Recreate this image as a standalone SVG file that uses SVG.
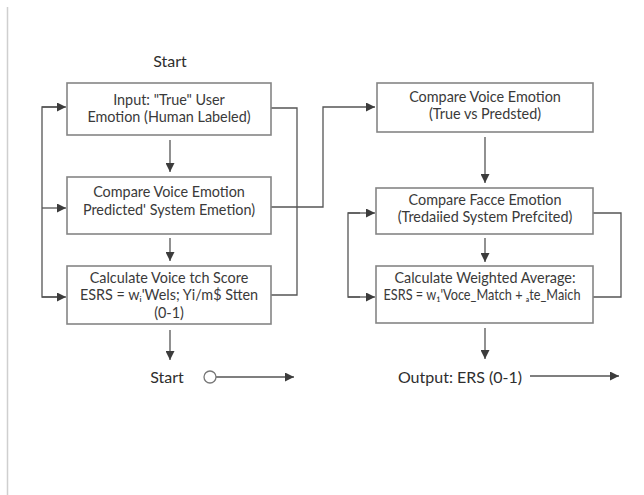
<svg xmlns="http://www.w3.org/2000/svg" width="644" height="495" viewBox="0 0 644 495">
<defs>
<marker id="ah" viewBox="0 0 10 10" refX="10" refY="5" markerWidth="9" markerHeight="9" markerUnits="userSpaceOnUse" orient="auto">
<path d="M0,0 L10,5 L0,10 z" fill="#3c3c3c"/>
</marker>
<style>
.box{fill:#fff;stroke:#858585;stroke-width:1.6}
.t{font-family:Lato,"Open Sans",sans-serif;font-size:14.4px;fill:#3a3a3a;text-anchor:middle}
.lbl{font-family:Lato,"Open Sans",sans-serif;font-size:16px;fill:#2e2e2e;text-anchor:middle}
.c{fill:none;stroke:#555;stroke-width:1.3}
.a{marker-end:url(#ah)}
</style>
</defs>
<rect width="644" height="495" fill="#fff"/>
<line x1="7.5" y1="7" x2="7.5" y2="495" stroke="#cfcfcf" stroke-width="1.5"/>

<g id="connectors">
<line class="c a" x1="170" y1="140" x2="170" y2="172"/>
<line class="c a" x1="170" y1="238" x2="170" y2="261"/>
<line class="c a" x1="170" y1="330" x2="170" y2="360"/>
<polyline class="c" points="58,297 42,297 42,107 58,107"/>
<line class="c a" x1="42" y1="107" x2="66" y2="107"/>
<line class="c a" x1="42" y1="208" x2="66" y2="208"/>
<line class="c a" x1="42" y1="297" x2="66" y2="297"/>
<polyline class="c" points="271,108 297,108 297,295 271,295"/>
<polyline class="c a" points="271,207 323,207 323,107 375,107"/>
<line class="c a" x1="216" y1="377" x2="294" y2="377"/>
<line class="c a" x1="485" y1="137" x2="485" y2="183"/>
<line class="c a" x1="485" y1="238" x2="485" y2="262"/>
<line class="c a" x1="485" y1="328" x2="485" y2="359"/>
<polyline class="c" points="360,297 348,297 348,213 360,213"/>
<line class="c a" x1="348" y1="213" x2="375" y2="213"/>
<line class="c a" x1="348" y1="297" x2="375" y2="297"/>
<polyline class="c" points="593,213 621,213 621,297 593,297"/>
<line class="c a" x1="530" y1="376" x2="619" y2="376"/>
</g>

<g id="start-top"><text class="lbl" x="170" y="67">Start</text></g>

<g id="n1">
<rect class="box" x="67" y="83" width="204" height="52"/>
<text class="t" x="169" y="105">Input: "True" User</text>
<text class="t" x="169" y="122">Emotion (Human Labeled)</text>
</g>
<g id="n2">
<rect class="box" x="67" y="177" width="204" height="57"/>
<text class="t" x="169" y="197">Compare Voice Emotion</text>
<text class="t" x="169" y="215">Predicted' System Emetion)</text>
</g>
<g id="n3">
<rect class="box" x="67" y="266" width="204" height="58"/>
<text class="t" x="169" y="283">Calculate Voice tch Score</text>
<text class="t" x="169" y="300">ESRS = wᵢ'Wels; Yi/m$ Stten</text>
<text class="t" x="169" y="318">(0-1)</text>
</g>
<g id="start-bottom">
<text class="lbl" x="167" y="383">Start</text>
<circle cx="210" cy="377" r="6" fill="#fff" stroke="#777" stroke-width="1.3"/>
</g>

<g id="n4">
<rect class="box" x="377" y="83" width="216" height="49"/>
<text class="t" x="485" y="102">Compare Voice Emotion</text>
<text class="t" x="485" y="119">(True vs Predsted)</text>
</g>
<g id="n5">
<rect class="box" x="376" y="188" width="217" height="46"/>
<text class="t" x="485" y="205">Compare Facce Emotion</text>
<text class="t" x="485" y="222">(Tredaiied System Prefcited)</text>
</g>
<g id="n6">
<rect class="box" x="376" y="266" width="217" height="57"/>
<text class="t" x="485" y="283">Calculate Weighted Average:</text>
<text class="t" x="482" y="300" textLength="197" lengthAdjust="spacingAndGlyphs">ESRS = w₁'Voce_Match + ₐte_Maich</text>
</g>
<g id="output"><text class="lbl" x="460" y="383">Output: ERS (0-1)</text></g>
</svg>
